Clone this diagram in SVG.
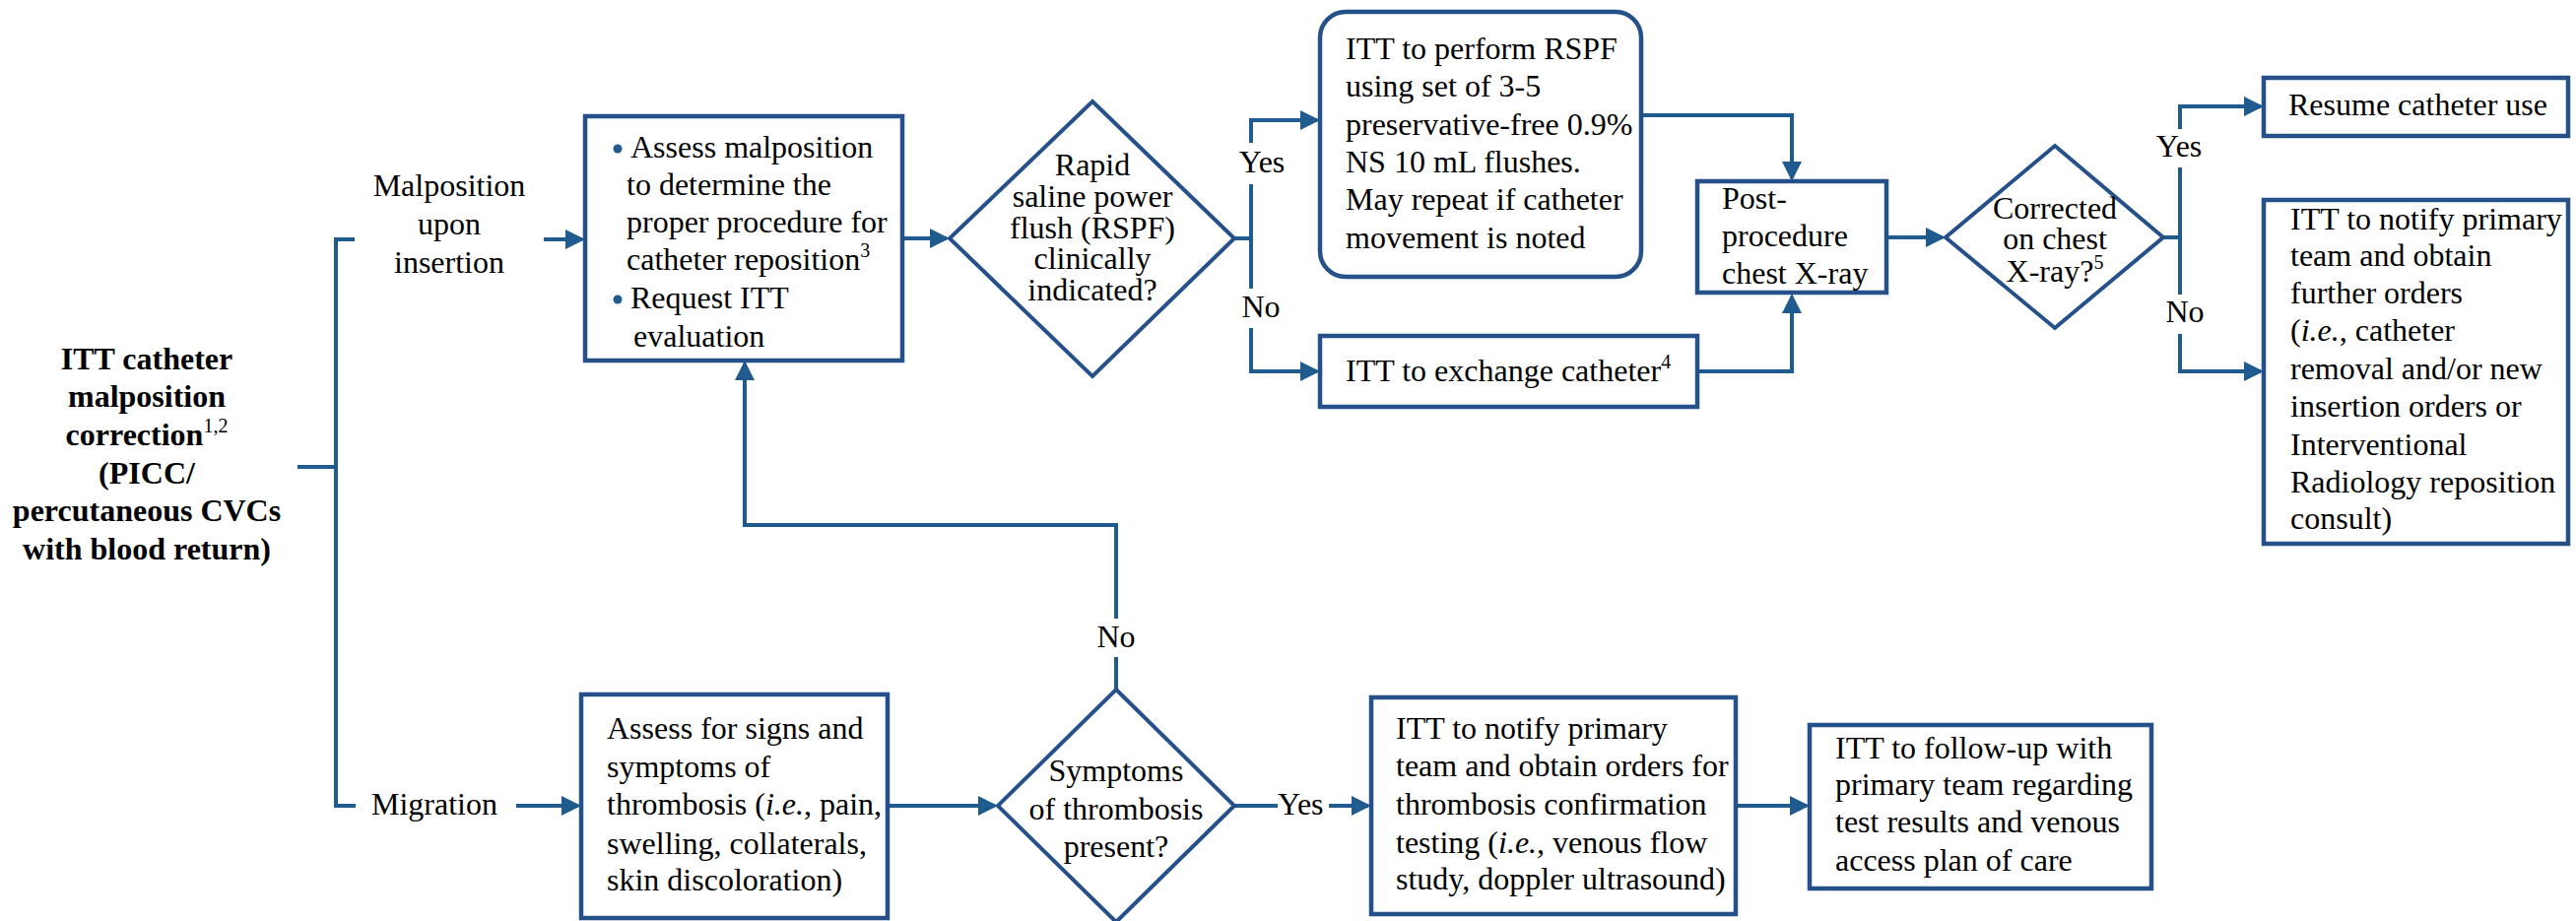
<svg xmlns="http://www.w3.org/2000/svg" width="2615" height="935" viewBox="0 0 2615 935">
<style>
.t{font-family:"Liberation Serif","Times New Roman",serif;font-size:32px;fill:#000}
.b{font-weight:bold}
.c{text-anchor:middle}
.box{fill:#fff;stroke:#25508A;stroke-width:4.5}
.dia{fill:#fff;stroke:#25508A;stroke-width:4}
.ln{fill:none;stroke:#1F5B8E;stroke-width:4}
.ar{fill:none;stroke:#1F5B8E;stroke-width:4;marker-end:url(#ah)}
.sup{font-size:20px}
</style>
<defs>
<marker id="ah" markerUnits="userSpaceOnUse" markerWidth="22" markerHeight="22" refX="17" refY="10" orient="auto">
<path d="M0,0 L20,10 L0,20 z" fill="#1F5B8E"/>
</marker>
</defs>
<rect width="2615" height="935" fill="#fff"/>

<g id="connectors">
<path class="ln" d="M302,474 H341"/>
<path class="ln" d="M360,243 H341 V818 H361"/>
<path class="ar" d="M552,243 H591"/>
<path class="ar" d="M524,818 H587"/>
<path class="ar" d="M916,242 H961"/>
<path class="ln" d="M1253,242 H1270"/>
<path class="ar" d="M1270,145 V122 H1337"/>
<path class="ln" d="M1270,187 V293"/>
<path class="ar" d="M1270,333 V377 H1337"/>
<path class="ar" d="M1666,117 H1819 V181"/>
<path class="ar" d="M1723,377 H1819 V301"/>
<path class="ar" d="M1915,241 H1972"/>
<path class="ln" d="M2196,241 H2213"/>
<path class="ar" d="M2213,131 V108 H2295"/>
<path class="ln" d="M2213,170 V299"/>
<path class="ar" d="M2213,339 V377 H2295"/>
<path class="ar" d="M901,818 H1010"/>
<path class="ln" d="M1133,700 V667"/>
<path class="ar" d="M1133,628 V533 H756 V369"/>
<path class="ln" d="M1253,818 H1297"/>
<path class="ar" d="M1349,818 H1389"/>
<path class="ar" d="M1762,818 H1834"/>
<text class="t c" x="1281" y="175">Yes</text>
<text class="t c" x="1280" y="322">No</text>
<text class="t c" x="2212" y="159">Yes</text>
<text class="t c" x="2218" y="327">No</text>
<text class="t c" x="1133" y="657">No</text>
<text class="t" x="1297" y="827">Yes</text>
</g>

<g id="title">
<text class="t b c" x="149" y="375">ITT catheter</text>
<text class="t b c" x="149" y="413">malposition</text>
<text class="t b c" x="149" y="452">correction<tspan class="sup" font-weight="normal" dy="-13">1,2</tspan></text>
<text class="t b c" x="149" y="491">(PICC/</text>
<text class="t b c" x="149" y="529">percutaneous CVCs</text>
<text class="t b c" x="149" y="568">with blood return)</text>
</g>

<g id="malposition-label">
<text class="t c" x="456" y="199">Malposition</text>
<text class="t c" x="456" y="238">upon</text>
<text class="t c" x="456" y="277">insertion</text>
</g>

<g id="migration-label">
<text class="t c" x="441" y="827">Migration</text>
</g>

<g id="assess-malposition">
<rect class="box" x="594" y="118" width="322" height="248"/>
<circle cx="627" cy="151" r="4.5" fill="#1F5B8E"/>
<text class="t" x="640" y="160">Assess malposition</text>
<text class="t" x="636" y="198">to determine the</text>
<text class="t" x="636" y="236">proper procedure for</text>
<text class="t" x="636" y="274">catheter reposition<tspan class="sup" dy="-13">3</tspan></text>
<circle cx="627" cy="304" r="4.5" fill="#1F5B8E"/>
<text class="t" x="640" y="313">Request ITT</text>
<text class="t" x="643" y="352">evaluation</text>
</g>

<g id="rspf-decision">
<polygon class="dia" points="1109,103 1253,242 1109,382 964,242"/>
<text class="t c" x="1109" y="178">Rapid</text>
<text class="t c" x="1109" y="210">saline power</text>
<text class="t c" x="1109" y="242">flush (RSPF)</text>
<text class="t c" x="1109" y="273">clinically</text>
<text class="t c" x="1109" y="305">indicated?</text>
</g>

<g id="perform-rspf">
<rect class="box" x="1340" y="12" width="326" height="269" rx="26"/>
<text class="t" x="1366" y="60">ITT to perform RSPF</text>
<text class="t" x="1366" y="98">using set of 3-5</text>
<text class="t" x="1366" y="137">preservative-free 0.9%</text>
<text class="t" x="1366" y="175">NS 10 mL flushes.</text>
<text class="t" x="1366" y="213">May repeat if catheter</text>
<text class="t" x="1366" y="252">movement is noted</text>
</g>

<g id="exchange-catheter">
<rect class="box" x="1340" y="341" width="383" height="72"/>
<text class="t" x="1366" y="387">ITT to exchange catheter<tspan class="sup" dy="-13">4</tspan></text>
</g>

<g id="post-xray">
<rect class="box" x="1723" y="184" width="192" height="113"/>
<text class="t" x="1748" y="212">Post-</text>
<text class="t" x="1748" y="250">procedure</text>
<text class="t" x="1748" y="288">chest X-ray</text>
</g>

<g id="corrected-decision">
<polygon class="dia" points="2086,148 2196,241 2086,333 1975,241"/>
<text class="t c" x="2086" y="222">Corrected</text>
<text class="t c" x="2086" y="253">on chest</text>
<text class="t c" x="2086" y="286">X-ray?<tspan class="sup" dy="-13">5</tspan></text>
</g>

<g id="resume">
<rect class="box" x="2298" y="79" width="309" height="59"/>
<text class="t" x="2323" y="117">Resume catheter use</text>
</g>

<g id="notify-further">
<rect class="box" x="2298" y="203" width="309" height="349"/>
<text class="t" x="2325" y="233">ITT to notify primary</text>
<text class="t" x="2325" y="270">team and obtain</text>
<text class="t" x="2325" y="308">further orders</text>
<text class="t" x="2325" y="346">(<tspan font-style="italic">i.e.</tspan>, catheter</text>
<text class="t" x="2325" y="385">removal and/or new</text>
<text class="t" x="2325" y="423">insertion orders or</text>
<text class="t" x="2325" y="462">Interventional</text>
<text class="t" x="2325" y="500">Radiology reposition</text>
<text class="t" x="2325" y="537">consult)</text>
</g>

<g id="assess-thrombosis">
<rect class="box" x="590" y="705" width="311" height="227"/>
<text class="t" x="616" y="750">Assess for signs and</text>
<text class="t" x="616" y="789">symptoms of</text>
<text class="t" x="616" y="827">thrombosis (<tspan font-style="italic">i.e.</tspan>, pain,</text>
<text class="t" x="616" y="867">swelling, collaterals,</text>
<text class="t" x="616" y="904">skin discoloration)</text>
</g>

<g id="symptoms-decision">
<polygon class="dia" points="1133,700 1253,818 1133,936 1013,818"/>
<text class="t c" x="1133" y="793">Symptoms</text>
<text class="t c" x="1133" y="832">of thrombosis</text>
<text class="t c" x="1133" y="870">present?</text>
</g>

<g id="notify-testing">
<rect class="box" x="1392" y="708" width="370" height="220"/>
<text class="t" x="1417" y="750">ITT to notify primary</text>
<text class="t" x="1417" y="788">team and obtain orders for</text>
<text class="t" x="1417" y="827">thrombosis confirmation</text>
<text class="t" x="1417" y="866">testing (<tspan font-style="italic">i.e.</tspan>, venous flow</text>
<text class="t" x="1417" y="903">study, doppler ultrasound)</text>
</g>

<g id="follow-up">
<rect class="box" x="1837" y="736" width="347" height="166"/>
<text class="t" x="1863" y="770">ITT to follow-up with</text>
<text class="t" x="1863" y="807">primary team regarding</text>
<text class="t" x="1863" y="845">test results and venous</text>
<text class="t" x="1863" y="884">access plan of care</text>
</g>
</svg>
